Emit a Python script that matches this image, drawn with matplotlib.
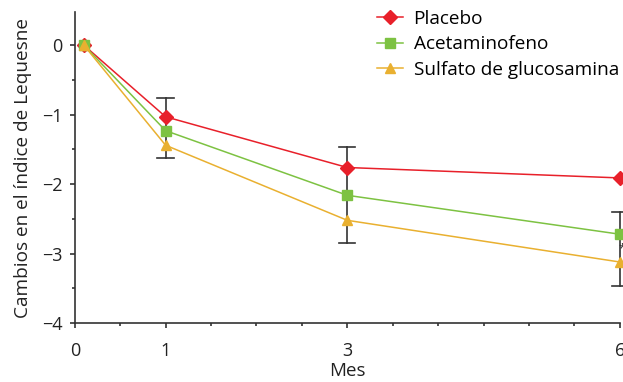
import matplotlib.pyplot as plt
from matplotlib.ticker import MultipleLocator, FixedLocator
from matplotlib.legend_handler import HandlerLine2D

# data
months = [0.1, 1, 3, 6]
placebo = [0, -1.03, -1.76, -1.91]
acetaminofeno = [0, -1.23, -2.16, -2.72]
glucosamina = [0, -1.44, -2.52, -3.12]

err_x = [1, 3, 6]
err_top = [-0.76, -1.47, -2.40]
err_bottom = [-1.63, -2.85, -3.47]

x_ticks = [0, 1, 3, 6]
series_names = ["Placebo", "Acetaminofeno", "Sulfato de glucosamina"]

RED = "#e8202a"
GREEN = "#7dc242"
YELLOW = "#e9b030"
AXIS = "#333333"
TEXT = "#222222"

plt.rcParams["font.family"] = ["Open Sans", "DejaVu Sans"]


class LeftMarkerHandler(HandlerLine2D):
    # legend marker sits at the left end of the short line, like the original
    def get_xdata(self, legend, xdescent, ydescent, width, height, fontsize):
        xdata = [-xdescent, -xdescent + width]
        return xdata, [-xdescent + 0.2 * width]


fig = plt.figure(figsize=(6.23, 3.82), dpi=100)
ax = fig.add_axes([0.120, 0.154, 0.875, 0.815])

# error bars (drawn first, under the markers)
for x, top, bot in zip(err_x, err_top, err_bottom):
    ax.plot([x, x], [bot, top], color=AXIS, lw=1.2, zorder=2, clip_on=False)
    for y in (top, bot):
        ax.plot([x - 0.09, x + 0.09], [y, y], color=AXIS, lw=1.2, zorder=2, clip_on=False)

ax.plot(months, placebo, color=RED, lw=1.1, marker="D", ms=7, label=series_names[0],
        zorder=3, clip_on=False)
ax.plot(months, acetaminofeno, color=GREEN, lw=1.1, marker="s", ms=7, label=series_names[1],
        zorder=4, clip_on=False)
ax.plot(months, glucosamina, color=YELLOW, lw=1.1, marker="^", ms=7, label=series_names[2],
        zorder=5, clip_on=False)

ax.text(6.02, -2.93, "*", fontsize=9, color=AXIS, ha="center", va="center")

ax.set_xlim(0, 6)
ax.set_ylim(-4, 0.48)
ax.xaxis.set_major_locator(FixedLocator(x_ticks))
ax.xaxis.set_minor_locator(MultipleLocator(0.5))
ax.yaxis.set_minor_locator(MultipleLocator(0.5))
ax.set_yticks([-4, -3, -2, -1, 0])
ax.set_yticklabels(["\u22124", "\u22123", "\u22122", "\u22121", "0"])

for side in ("top", "right"):
    ax.spines[side].set_visible(False)
for side in ("left", "bottom"):
    ax.spines[side].set_color(AXIS)
    ax.spines[side].set_linewidth(1.2)

ax.tick_params(which="both", direction="out", color=AXIS, width=1.2, labelsize=13,
               labelcolor=TEXT)
ax.tick_params(which="major", length=3.8)
ax.tick_params(axis="x", which="major", pad=10)
ax.tick_params(axis="y", which="major", pad=5)
ax.tick_params(which="minor", length=2.5)

ax.set_xlabel("Mes", fontsize=13.5, color=TEXT, labelpad=1)
ax.set_ylabel("Cambios en el índice de Lequesne", fontsize=13.7, color=TEXT, labelpad=7)

leg = ax.legend(loc="upper right", bbox_to_anchor=(1.012, 1.03), frameon=False, fontsize=13.7,
                handlelength=1.35, handletextpad=0.55, labelspacing=0.38, borderaxespad=0,
                numpoints=1, handler_map={plt.Line2D: LeftMarkerHandler()})

fig.savefig("out.png", dpi=100)
